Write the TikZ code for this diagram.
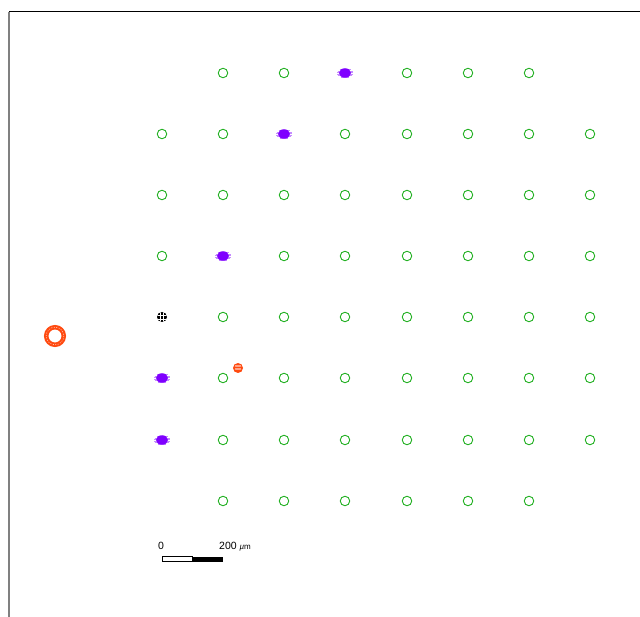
\documentclass[tikz,border=0pt]{standalone}
\usepackage{fontspec}
\setmainfont{Liberation Sans}
\usetikzlibrary{shapes.geometric}
\definecolor{gr}{HTML}{22B022}
\definecolor{vi}{HTML}{7F00FF}
\definecolor{og}{HTML}{FF4A10}
\begin{document}
\begin{tikzpicture}[x=1pt,y=-1pt,
  site/.style={circle,draw=gr,line width=0.9pt,minimum size=9.5pt,inner sep=0pt},
  lbl/.style={font=\fontsize{10.5}{11}\selectfont,inner sep=0pt}]
\useasboundingbox (0,0) rectangle (640,617);
\fill[white] (0,0) rectangle (640,617);
\draw[gray,line width=1.3pt] (9,12) -- (9,617);
\draw[black,line width=1pt] (9,12) -- (640,12);
% grid
\foreach \r/\y/\cols in {
  0/73/{223,284,407,468,529},
  1/134/{162,223,345,407,468,529,590},
  2/195/{162,223,284,345,407,468,529,590},
  3/256/{162,284,345,407,468,529,590},
  4/317/{223,284,345,407,468,529,590},
  5/378/{223,284,345,407,468,529,590},
  6/440/{223,284,345,407,468,529,590},
  7/501/{223,284,345,407,468,529}}{
  \foreach \x in \cols { \node[site] (s\r-\x) at (\x,\y) {}; }
}
% violet blobs
\foreach \x/\y [count=\i] in {345/73,284/134,223/256,162/378,162/440}{
  \coordinate (c\i) at (\x,\y);
  \foreach \dy/\w in {-4/4,-2.5/7,-1/8,0.5/8,2/7.5,3.5/5.5}{
    \draw[vi!45,line width=0.6pt] ([xshift=-\w pt,yshift=\dy pt]c\i) -- ([xshift=\w pt,yshift=\dy pt]c\i);
  }
  \node[ellipse,fill=vi,minimum width=12pt,minimum height=9.5pt,inner sep=0pt] (v\i) at (c\i) {};
}
% black crossed
\node[circle,fill=black,minimum size=10pt,inner sep=0pt] (k) at (162,317) {};
\begin{scope}
\clip (k) circle (5pt);
\foreach \d in {-2,1.5}{
  \draw[white,line width=0.5pt] ([xshift=\d pt]k.center) ++(0,-6) -- ++(0,12);
  \draw[white,line width=0.5pt] ([yshift=\d pt]k.center) ++(-6,0) -- ++(12,0);
}
\end{scope}
% small orange
\node[circle,fill=og,minimum size=10pt,inner sep=0pt] (o) at (238,368) {};
\draw[white,line width=0.5pt] ([shift={(-3,-1.5)}]o.center) -- ++(1,-1) -- ++(1,1) -- ++(1,-1) -- ++(1,1) -- ++(1,-1) -- ++(1,1);
\draw[white,line width=0.5pt] ([shift={(-3,1.5)}]o.center) -- ++(1,-1) -- ++(1,1) -- ++(1,-1) -- ++(1,1) -- ++(1,-1) -- ++(1,1);
% big orange ring
\coordinate (R) at (55,336);
\draw[og,line width=4.5pt] (R) circle (8.8);
\draw[white!70!og,line width=0.6pt,dash pattern=on 1pt off 1.5pt] (R) circle (8.8);
% scale bar
\node[lbl,anchor=base west] (z) at (158,549) {0};
\node[lbl,anchor=base west] (t) at (219,549) {200 \fontsize{8}{9}\selectfont\textit{µ}m};
\draw[black,line width=0.8pt,fill=white] (162,556.5) rectangle (192.5,561.5);
\fill[black] (192.5,556.5) rectangle (223,561.5);
\end{tikzpicture}
\end{document}
